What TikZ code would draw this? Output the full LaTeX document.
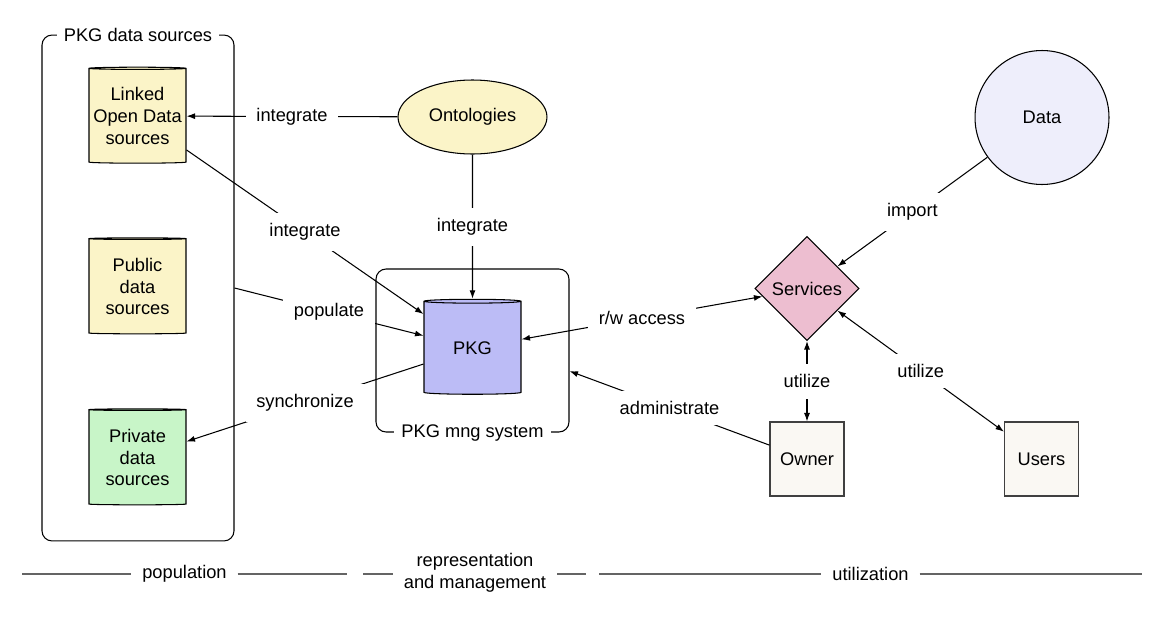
\documentclass[tikz,border=0pt]{standalone}
\usepackage{fontspec}
\setmainfont{Liberation Sans}
\usetikzlibrary{shapes.geometric,arrows.meta}

\definecolor{srcyellow}{RGB}{251,244,200}
\definecolor{srcgreen}{RGB}{200,245,200}
\definecolor{pkgblue}{RGB}{188,188,246}
\definecolor{svcpink}{RGB}{237,190,208}
\definecolor{datablue}{RGB}{238,238,251}
\definecolor{boxwhite}{RGB}{250,248,243}
\definecolor{phasegray}{RGB}{100,100,100}

\begin{document}
\begin{tikzpicture}[x=0.02cm, y=-0.02cm,
    font=\fontsize{10.4}{12.4}\selectfont,
    line width=0.6pt,
    >={Latex[length=1.7mm,width=1.2mm]},
    db/.style={cylinder, shape border rotate=90, draw, aspect=0.025,
        minimum width=1.94cm, minimum height=1.92cm, align=center, inner sep=0pt},
    frame/.style={draw, rounded corners=0.2cm, inner sep=0pt},
    framelabel/.style={fill=white, inner xsep=4pt, inner ysep=1pt},
    lbl/.style={fill=white, inner sep=6pt},
    actor/.style={draw=black!75, fill=boxwhite, minimum size=1.48cm},
    phase/.style={draw=phasegray, line width=0.9pt},
    phaselabel/.style={inner xsep=6pt, align=center}]
    \useasboundingbox (0,0) rectangle (1152,632);

    % Frames
    \node[frame, minimum width=3.84cm, minimum height=10.12cm] (srcframe) at (138,288) {};
    \node[framelabel] at (srcframe.north) {PKG data sources};
    \node[frame, minimum width=3.86cm, minimum height=3.26cm] (mngframe) at (472.5,350.5) {};
    \node[framelabel] at (mngframe.south) {PKG mng system};

    % Data sources
    \node[db, fill=srcyellow] (lod) at (137.5,116) {Linked\\Open Data\\sources};
    \node[db, fill=srcyellow] (pub) at (137.5,286.5) {Public\\data\\sources};
    \node[db, fill=srcgreen] (priv) at (137.5,457.5) {Private\\data\\sources};

    % PKG and ontologies
    \node[db, fill=pkgblue, aspect=0.1, minimum height=1.9cm] (pkg) at (472.5,348) {PKG};
    \node[ellipse, draw, fill=srcyellow, minimum width=2.98cm, minimum height=1.48cm] (onto) at (472.5,117) {Ontologies};

    % Utilization side
    \node[diamond, draw, fill=svcpink, minimum size=2.08cm, inner sep=0pt] (svc) at (807,288.5) {Services};
    \node[circle, draw, fill=datablue, minimum size=2.68cm] (data) at (1042,117.5) {Data};
    \node[actor] (owner) at (807,459) {Owner};
    \node[actor] (users) at (1041.5,459) {Users};

    % Connectors
    \draw[->] (onto) -- node[lbl] {integrate} (lod);
    \draw[->] (onto) -- node[lbl] {integrate} (pkg);
    \draw[->] (lod) -- node[lbl] {integrate} (pkg);
    \draw[->] (srcframe.east) -- node[lbl] {populate} (pkg);
    \draw[->] (pkg) -- node[lbl] {synchronize} (priv);
    \draw[<->] (pkg) -- node[lbl] {r/w access} (svc);
    \draw[->] (owner) -- node[lbl] {administrate} (mngframe.348);
    \draw[<->] (svc) -- node[lbl] {utilize} (owner);
    \draw[->] (data) -- node[lbl] {import} (svc);
    \draw[<->] (svc) -- node[lbl] {utilize} (users);

    % Phases
    \node[phaselabel] (pop) at (184.5,574) {population};
    \node[phaselabel] (rep) at (475,573) {representation\\and management};
    \node[phaselabel] (util) at (870.5,574) {utilization};
    \coordinate (popL) at (22,574);
    \coordinate (popR) at (347,574);
    \coordinate (repL) at (363,574);
    \coordinate (repR) at (586,574);
    \coordinate (utilL) at (599,574);
    \coordinate (utilR) at (1142,574);
    \draw[phase] (popL) -- (pop.west);
    \draw[phase] (pop.east) -- (popR);
    \draw[phase] (repL) -- (rep.west |- repL);
    \draw[phase] (rep.east |- repR) -- (repR);
    \draw[phase] (utilL) -- (util.west);
    \draw[phase] (util.east) -- (utilR);
\end{tikzpicture}
\end{document}
